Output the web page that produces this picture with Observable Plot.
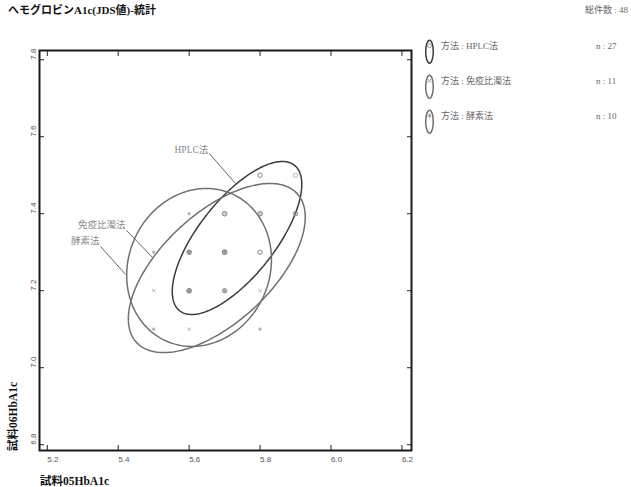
<!DOCTYPE html>
<html><head><meta charset="utf-8">
<script src="https://cdn.jsdelivr.net/npm/d3@7"></script>
<script src="https://cdn.jsdelivr.net/npm/@observablehq/plot@0.6"></script>
<style>
body{margin:0;background:#fff;}
#wrap{position:relative;width:631px;height:487px;}
#wrap svg{position:absolute;left:0;top:0;}
</style></head><body><div id="wrap"></div>
<script>
// ---- data ----
const title = "ヘモグロビンA1c(JDS値)-統計";
const xTitle = "試料05HbA1c";
const yTitle = "試料06HbA1c";
const methods = ["HPLC法", "免疫比濁法", "酵素法"];
const counts = [27, 11, 10];
// summary statistics per method (mean, sd, correlation) for the 95% ellipses
const meanX = [5.735, 5.678, 5.628];
const meanY = [7.337, 7.259, 7.2605];
const sdX = [0.0746, 0.1019, 0.0834];
const sdY = [0.0812, 0.0897, 0.0838];
const corr = [0.70, 0.60, 0.10];
const level = 2.4477; // sqrt(chi2(0.95, 2))

const xTicks = [5.2, 5.4, 5.6, 5.8, 6.0, 6.2];
const yTicks = [6.8, 7.0, 7.2, 7.4, 7.6, 7.8];

const hplcX = [5.8,5.8,5.9,5.7,5.7,5.7,5.8,5.8,5.8,5.9,5.9,5.6,5.6,5.6,5.7,5.7,5.7,5.7,5.7,5.8,5.8,5.6,5.6,5.6,5.6,5.7,5.7];
const hplcY = [7.5,7.5,7.5,7.4,7.4,7.4,7.4,7.4,7.4,7.4,7.4,7.3,7.3,7.3,7.3,7.3,7.3,7.3,7.3,7.3,7.3,7.2,7.2,7.2,7.2,7.2,7.2];
const immX = [5.5,5.6,5.8,5.7,5.8,5.7,5.6,5.7,5.7,5.9,5.6];
const immY = [7.2,7.1,7.2,7.4,7.4,7.2,7.3,7.3,7.3,7.4,7.2];
const enzX = [5.6,5.5,5.5,5.8,5.6,5.6,5.7,5.6,5.6,5.7];
const enzY = [7.4,7.3,7.1,7.1,7.3,7.3,7.3,7.2,7.2,7.2];

// ellipse label annotations (data units)
const labelX = [5.654, 5.4206, 5.3473];
const labelY = [7.5644, 7.3696, 7.328];
const leaderX1 = [5.657, 5.4234, 5.3501];
const leaderY1 = [7.5566, 7.3567, 7.315];
const leaderX2 = [5.7304, 5.4966, 5.4206];
const leaderY2 = [7.4787, 7.2865, 7.2423];

// ---- styles ----
const serif = "'Liberation Serif','Noto Sans CJK JP',serif";
const sans = "'Liberation Sans',Arial,sans-serif";
const ellStroke = ["#3c3c3c", "#707070", "#707070"];
const symbols = ["circle", "times", "asterisk"];
const symR = [2.2, 1.7, 1.8];
const ptColor = "#8a8a8a";

const series = [[hplcX, hplcY], [immX, immY], [enzX, enzY]];
const pointSets = series.map(([xs, ys]) => xs.map((x, j) => ({x, y: ys[j]})));

const ellipses = methods.map((m, i) => {
  const pts = [];
  const s = Math.sqrt(1 - corr[i] * corr[i]);
  for (let k = 0; k <= 240; k++) {
    const t = 2 * Math.PI * k / 240;
    pts.push({
      x: meanX[i] + level * sdX[i] * Math.cos(t),
      y: meanY[i] + level * sdY[i] * (corr[i] * Math.cos(t) + s * Math.sin(t))
    });
  }
  return pts;
});

const idx = methods.map((m, i) => i);
const fmt = d3.format(".1f");

const chart = Plot.plot({
  width: 631, height: 487,
  marginLeft: 39, marginRight: 220, marginTop: 50, marginBottom: 37,
  x: {domain: [5.178, 6.227], label: null},
  y: {domain: [6.785, 7.824], label: null},
  style: {background: "transparent"},
  marks: [
    ...ellipses.map((e, i) => Plot.line(e, {x: "x", y: "y", stroke: ellStroke[i], strokeWidth: 1.5})),
    ...pointSets.map((p, i) => Plot.dot(p, {x: "x", y: "y", symbol: symbols[i], r: symR[i], stroke: ptColor, strokeOpacity: 0.6, fill: "none", strokeWidth: 1})),
    Plot.link(idx, {x1: i => leaderX1[i], y1: i => leaderY1[i], x2: i => leaderX2[i], y2: i => leaderY2[i], stroke: "#666", strokeWidth: 1}),
    Plot.text(idx, {x: i => labelX[i], y: i => labelY[i], text: i => methods[i], textAnchor: "end", fontSize: 9.5, fill: "#8a8a8a", fontFamily: serif}),
    Plot.axisX({anchor: "bottom", ticks: xTicks, tickSize: -5, tickFormat: () => "", stroke: "#222", label: null}),
    Plot.axisX({anchor: "top", ticks: xTicks, tickSize: -5, tickFormat: () => "", stroke: "#222", label: null}),
    Plot.axisY({anchor: "left", ticks: yTicks, tickSize: -5, tickFormat: () => "", stroke: "#222", label: null}),
    Plot.axisY({anchor: "right", ticks: yTicks, tickSize: -5, tickFormat: () => "", stroke: "#222", label: null}),
    Plot.axisX({anchor: "bottom", ticks: xTicks, tickSize: 0, tickPadding: 6, tickFormat: fmt, textAnchor: "start", fontSize: 8, fill: "#555", fontFamily: sans, label: null}),
    Plot.axisY({anchor: "left", ticks: yTicks, tickSize: 0, tickPadding: 6, tickFormat: fmt, rotate: -90, textAnchor: "start", fontSize: 8, fill: "#555", fontFamily: sans, label: null}),
    Plot.frame({stroke: "#1a1a1a", strokeWidth: 2})
  ]
});
const wrap = document.getElementById("wrap");
wrap.appendChild(chart);

// ---- overlay: title, total, legend, axis titles ----
const ov = d3.select(wrap).append("svg").attr("width", 631).attr("height", 487)
  .style("font-family", serif);
ov.append("text").attr("x", 8).attr("y", 10).attr("dominant-baseline", "central")
  .attr("font-size", 11).attr("font-weight", "bold").attr("fill", "#111").text(title);
ov.append("text").attr("x", 628).attr("y", 10).attr("dominant-baseline", "central")
  .attr("text-anchor", "end").attr("font-size", 9).attr("fill", "#666")
  .text("総件数 : " + d3.sum(counts));
ov.append("text").attr("x", 40).attr("y", 481).attr("dominant-baseline", "central")
  .attr("font-size", 11.5).attr("font-weight", "bold").attr("fill", "#111").text(xTitle);
ov.append("text").attr("transform", "translate(13,451) rotate(-90)").attr("dominant-baseline", "central")
  .attr("font-size", 11.5).attr("font-weight", "bold").attr("fill", "#111").text(yTitle);

const symMap = {circle: d3.symbolCircle, times: d3.symbolTimes, asterisk: d3.symbolAsterisk};
methods.forEach((m, i) => {
  const cy = 51.7 + 35 * i;
  const g = ov.append("g");
  g.append("ellipse").attr("cx", 429.5).attr("cy", cy).attr("rx", 3.8).attr("ry", 11.5)
    .attr("fill", "none").attr("stroke", ellStroke[i]).attr("stroke-width", 1.5);
  g.append("path").attr("transform", `translate(429.5,${cy - 6})`)
    .attr("d", d3.symbol(symMap[symbols[i]], 12)()).attr("fill", "none").attr("stroke", "#999");
  g.append("text").attr("x", 441).attr("y", cy - 6).attr("dominant-baseline", "central")
    .attr("font-size", 9).attr("fill", "#666").text("方法 : " + m);
  g.append("text").attr("x", 596).attr("y", cy - 6).attr("dominant-baseline", "central")
    .attr("font-size", 9).attr("fill", "#666").text("n : " + counts[i]);
});
</script></body></html>
